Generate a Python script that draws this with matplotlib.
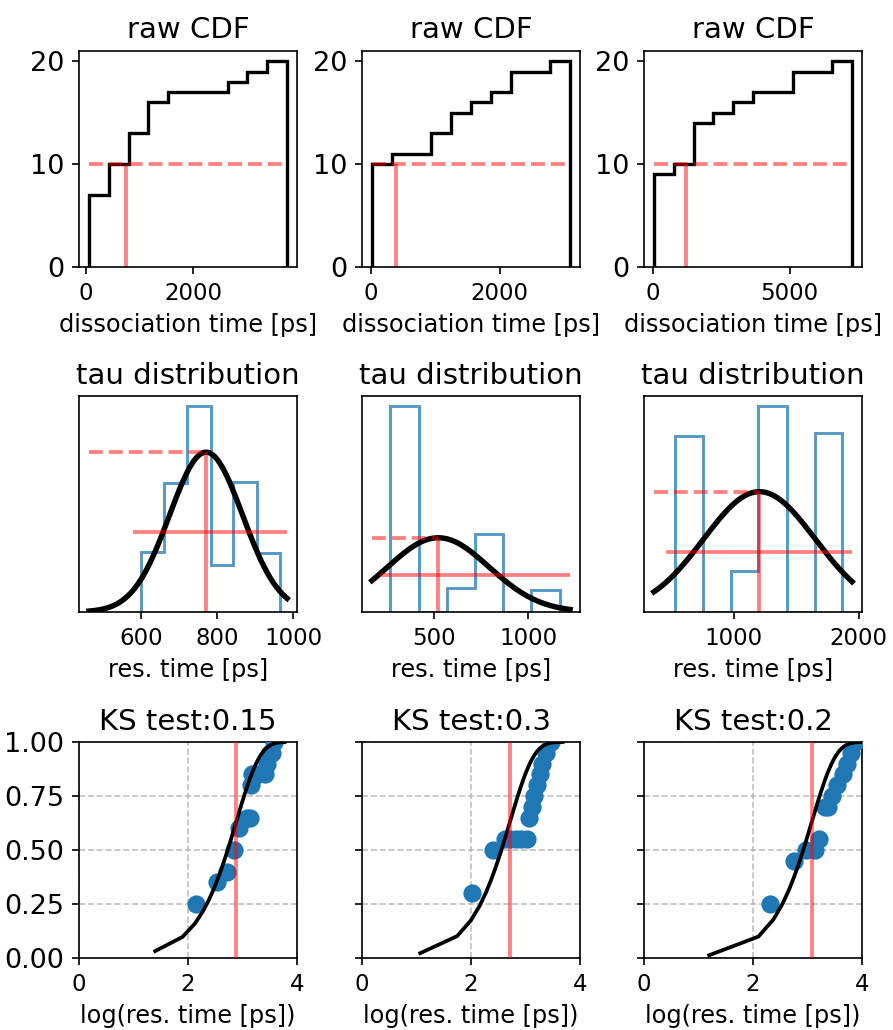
import numpy as np
import matplotlib
matplotlib.use('Agg')
import matplotlib.pyplot as plt

plt.rcParams['font.size'] = 11.5
plt.rcParams['xtick.labelsize'] = 11
plt.rcParams['ytick.labelsize'] = 13

# top row: raw dissociation times (10 equal bins between min and max)
raw_min = [50, 15, 25]
raw_max = [3750, 3090, 7290]
raw_counts = [[7, 3, 3, 3, 1, 0, 0, 1, 1, 1],
              [10, 1, 0, 2, 2, 1, 1, 2, 0, 1],
              [9, 1, 4, 1, 1, 1, 0, 2, 0, 1]]
raw_median = [750, 388, 1200]
raw_xticks = [[0, 2000], [0, 2000], [0, 5000]]

# middle row: tau distribution + gaussian fit
tau_edges = [[600, 661, 722, 783, 843, 904, 965],
             [263, 416, 565, 716, 868, 1017, 1170],
             [531, 755, 974, 1197, 1426, 1650, 1868]]
tau_heights = [[180, 387, 617, 140, 390, 177],
               [617, 0, 70, 231, 0, 67],
               [515, 0, 120, 615, 0, 510]]
tau_mu = [771, 521, 1205]
tau_sigma = [96, 270, 447]
fit_range = [(463, 984), (167, 1223), (360, 1947)]
half_line_start = [580, 211, 453]
tau_xticks = [[600, 800, 1000], [500, 1000], [1000, 2000]]

# bottom row: KS test
ks_vals = ['0.15', '0.3', '0.2']
ecdf_x = [[2.15, 2.53, 2.72, 2.85, 2.93, 3.08, 3.13, 3.15, 3.18, 3.22, 3.30, 3.42, 3.45, 3.50, 3.55, 3.58],
          [2.01, 2.41, 2.62, 2.72, 2.82, 2.92, 3.02, 3.07, 3.12, 3.16, 3.21, 3.26, 3.31, 3.38, 3.46],
          [2.32, 2.75, 2.98, 3.13, 3.22, 3.33, 3.38, 3.45, 3.55, 3.65, 3.72, 3.80, 3.88]]
ecdf_y = [[0.25, 0.35, 0.40, 0.50, 0.60, 0.65, 0.65, 0.80, 0.85, 0.85, 0.85, 0.85, 0.90, 0.95, 0.95, 1.00],
          [0.30, 0.50, 0.55, 0.55, 0.55, 0.55, 0.55, 0.65, 0.70, 0.75, 0.80, 0.85, 0.90, 0.95, 1.00],
          [0.25, 0.45, 0.50, 0.50, 0.55, 0.70, 0.70, 0.75, 0.80, 0.85, 0.90, 0.95, 1.00]]
model_t0 = [25, 11.7, 15.7]
model_dt = [54, 44, 110]

W, H = 893, 1030
fig = plt.figure(figsize=(W / 150, H / 150), dpi=150)
col_left = [79, 362, 644]
row_top = [51, 396, 742]
axw, axh = 218, 216

def make_ax(r, c):
    return fig.add_axes([col_left[c] / W, 1 - (row_top[r] + axh) / H, axw / W, axh / H])

red = dict(colors='r', alpha=0.5, lw=1.8)

for i in range(3):
    # raw CDF
    ax = make_ax(0, i)
    edges = np.linspace(raw_min[i], raw_max[i], 11)
    ax.hist(edges[:-1], bins=edges, weights=raw_counts[i], histtype='step',
            cumulative=True, color='k', lw=1.6)
    ax.hlines(10, raw_min[i], raw_max[i], linestyles='--', **red)
    ax.vlines(raw_median[i], 0, 10, **red)
    ax.set_yticks([0, 10, 20])
    ax.set_xticks(raw_xticks[i])
    ax.set_title('raw CDF', fontsize=14)
    ax.set_xlabel('dissociation time [ps]')

    # tau distribution
    ax = make_ax(1, i)
    e = tau_edges[i]
    ax.hist(e[:-1], bins=e, weights=tau_heights[i], density=True, histtype='step',
            color='C0', alpha=0.75, lw=1.4)
    x = np.linspace(fit_range[i][0], fit_range[i][1], 200)
    mu, sg = tau_mu[i], tau_sigma[i]
    pdf = np.exp(-(x - mu) ** 2 / (2 * sg ** 2)) / (sg * np.sqrt(2 * np.pi))
    peak = 1 / (sg * np.sqrt(2 * np.pi))
    ax.plot(x, pdf, color='k', lw=2.6)
    ax.hlines(peak, x[0], mu, linestyles='--', **red)
    ax.vlines(mu, 0, peak, **red)
    ax.hlines(peak / 2, half_line_start[i], x[-1], **red)
    ax.set_yticks([])
    ax.set_xticks(tau_xticks[i])
    ax.set_title('tau distribution', fontsize=14)
    ax.set_xlabel('res. time [ps]')

    # KS test
    ax = make_ax(2, i)
    t = model_t0[i] + model_dt[i] * np.arange(110)
    ax.grid(True, linestyle='--', color='#b0b0b0', lw=0.8, alpha=0.8)
    ax.scatter(ecdf_x[i], ecdf_y[i], s=60, color='C0', zorder=3)
    ax.plot(np.log10(t), 1 - np.exp(-t / tau_mu[i]), color='k', lw=1.8, zorder=4)
    ax.axvline(np.log10(tau_mu[i]), color='r', alpha=0.5, lw=1.8, zorder=5)
    ax.set_xlim(0, 4)
    ax.set_ylim(0, 1)
    ax.set_xticks([0, 2, 4])
    ax.set_yticks([0, 0.25, 0.5, 0.75, 1.0])
    if i > 0:
        ax.tick_params(labelleft=False)
    ax.set_axisbelow(True)
    ax.set_title('KS test:' + ks_vals[i], fontsize=14)
    ax.set_xlabel('log(res. time [ps])')

fig.savefig('out.png', dpi=150)
